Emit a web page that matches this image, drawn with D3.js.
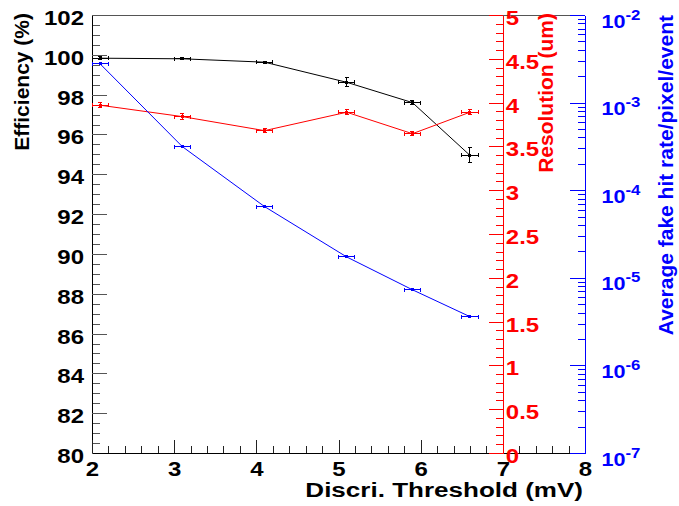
<!DOCTYPE html>
<html>
<head>
<meta charset="utf-8">
<script src="https://cdn.jsdelivr.net/npm/d3@7"></script>
<style>
  html, body { margin: 0; padding: 0; background: #fff; }
  svg { display: block; }
  text { font-family: "Liberation Sans", Arial, Helvetica, sans-serif; font-weight: bold; }
  .axis path, .axis line { shape-rendering: crispEdges; }
</style>
</head>
<body>
<svg id="chart" width="679" height="506"></svg>
<script>
// Discriminator threshold scan: three graphs on a shared x axis
const thresholds = [2.1, 3.1, 4.1, 5.1, 5.9, 6.6];
const thresholdErr = [0.1, 0.1, 0.1, 0.1, 0.1, 0.1];
const efficiency = [99.83, 99.8, 99.63, 98.62, 97.6, 94.95];
const efficiencyErr = [0.08, 0.05, 0.05, 0.22, 0.12, 0.38];
const resolution = [3.97, 3.84, 3.68, 3.89, 3.645, 3.89];
const resolutionErr = [0.03, 0.03, 0.025, 0.03, 0.025, 0.03];
const fakeRate = [2.76e-3, 3.14e-4, 6.5e-5, 1.73e-5, 7.3e-6, 3.6e-6];

const effTicks = d3.range(80, 102.01, 2);
const resTicks = d3.range(0, 5.01, 0.5);
const rateTicks = [1e-7, 1e-6, 1e-5, 1e-4, 1e-3, 1e-2];
const xTicks = [2, 3, 4, 5, 6, 7, 8];

const frame = { left: 92, right: 585, top: 15, bottom: 453 };
const SX = 1.2; // horizontal text stretch, the original renderer draws wide glyphs

const svg = d3.select("#chart");

const x = d3.scaleLinear([2, 8], [frame.left, frame.right]);
const yEff = d3.scaleLinear([80, 102], [frame.bottom, frame.top]);
const yRes = d3.scaleLinear([0, 5], [frame.bottom, frame.top]);
const yRate = d3.scaleLog([1e-7, 1e-2], [frame.bottom, frame.top]);

// top frame edge
svg.append("line")
  .attr("x1", frame.left).attr("x2", frame.right)
  .attr("y1", frame.top).attr("y2", frame.top)
  .attr("stroke", "#555").attr("shape-rendering", "crispEdges");

function stretch(sel, dx, dy, sx) {
  sel.attr("x", 0).attr("y", 0).attr("dy", null)
    .attr("transform", `translate(${dx},${dy}) scale(${sx},1)`);
}

function minorTicks(ticks, n) {
  const out = [];
  for (let i = 0; i < ticks.length - 1; i++) {
    const step = (ticks[i + 1] - ticks[i]) / n;
    for (let j = 1; j < n; j++) out.push(ticks[i] + j * step);
  }
  return out;
}

// --- left: efficiency ---------------------------------------------------
const gL = svg.append("g").attr("class", "axis")
  .attr("transform", `translate(${frame.left},0)`);
gL.append("g").call(d3.axisLeft(yEff).tickValues(minorTicks(effTicks, 4))
  .tickSize(-8).tickFormat("")).call(g => g.select(".domain").remove());
gL.append("g").call(d3.axisLeft(yEff).tickValues(effTicks).tickSize(-15)
  .tickSizeOuter(0).tickFormat(d3.format("d")));
gL.selectAll(".tick line").attr("stroke", "#555");
gL.selectAll(".domain").attr("stroke", "#000");
gL.selectAll("text").attr("font-size", 20).attr("fill", "#000")
  .attr("text-anchor", "end").call(stretch, -8, 9.5, SX);

// --- bottom: threshold --------------------------------------------------
const gB = svg.append("g").attr("class", "axis")
  .attr("transform", `translate(0,${frame.bottom})`);
gB.append("g").call(d3.axisBottom(x).tickValues(minorTicks(xTicks, 5))
  .tickSize(-7).tickFormat("")).call(g => g.select(".domain").remove());
gB.append("g").call(d3.axisBottom(x).tickValues(xTicks).tickSize(-13)
  .tickSizeOuter(0).tickFormat(d3.format("d")));
gB.selectAll(".tick line").attr("stroke", "#222");
gB.selectAll(".domain").attr("stroke", "#000");
gB.selectAll("text").attr("font-size", 20).attr("fill", "#000")
  .call(stretch, 0, 23, SX);

// --- red: resolution ----------------------------------------------------
const gR = svg.append("g").attr("class", "axis")
  .attr("transform", `translate(${x(7)},0)`);
gR.append("g").call(d3.axisRight(yRes).tickValues(minorTicks(resTicks, 5))
  .tickSize(-7).tickFormat("")).call(g => g.select(".domain").remove());
gR.append("g").call(d3.axisRight(yRes).tickValues(resTicks).tickSize(-14)
  .tickSizeOuter(0).tickFormat(d3.format("~g")));
gR.selectAll(".tick line, .domain").attr("stroke", "#f00");
gR.selectAll("text").attr("font-size", 20).attr("fill", "#f00")
  .attr("text-anchor", "start").call(stretch, 3, 9.5, SX);

// --- blue: fake hit rate (log) ------------------------------------------
const rateMinor = [];
for (let e = -7; e < -2; e++) for (let m = 2; m <= 9; m++) rateMinor.push(m * Math.pow(10, e));
const gF = svg.append("g").attr("class", "axis")
  .attr("transform", `translate(${frame.right},0)`);
gF.append("g").call(d3.axisRight(yRate).tickValues(rateMinor)
  .tickSize(-7).tickFormat("")).call(g => g.select(".domain").remove());
gF.append("g").call(d3.axisRight(yRate).tickValues(rateTicks).tickSize(-15)
  .tickSizeOuter(0).tickFormat(""));
gF.selectAll(".tick line, .domain").attr("stroke", "#00f");
gF.selectAll(".tick text").filter(d => rateTicks.includes(d))
  .attr("font-size", 18).attr("fill", "#00f").attr("text-anchor", "start")
  .call(stretch, 16.5, 12, SX)
  .each(function (d) {
    const t = d3.select(this);
    t.append("tspan").text("10");
    t.append("tspan").attr("font-size", 14).attr("dy", -8)
      .text(String(Math.round(Math.log10(d))));
  });

// --- graphs -------------------------------------------------------------
function drawGraph(yScale, vals, errs, color) {
  const pts = thresholds.map((t, i) => ({ t, ex: thresholdErr[i], v: vals[i], ev: errs ? errs[i] : 0 }));
  const g = svg.append("g").attr("stroke", color).attr("fill", color);
  g.append("path").datum(pts)
    .attr("fill", "none").attr("stroke-width", 1)
    .attr("d", d3.line().x(d => x(d.t)).y(d => yScale(d.v)));
  const pt = g.selectAll("g.pt").data(pts).join("g").attr("class", "pt")
    .attr("stroke-width", 1).attr("shape-rendering", "crispEdges");
  pt.append("line")
    .attr("x1", d => x(d.t - d.ex)).attr("x2", d => x(d.t + d.ex))
    .attr("y1", d => yScale(d.v)).attr("y2", d => yScale(d.v));
  [-1, 1].forEach(s => {
    pt.append("line")
      .attr("x1", d => x(d.t + s * d.ex)).attr("x2", d => x(d.t + s * d.ex))
      .attr("y1", d => yScale(d.v) - 2).attr("y2", d => yScale(d.v) + 2);
  });
  const withY = pt.filter(d => d.ev > 0);
  withY.append("line")
    .attr("x1", d => x(d.t)).attr("x2", d => x(d.t))
    .attr("y1", d => yScale(d.v - d.ev)).attr("y2", d => yScale(d.v + d.ev));
  [-1, 1].forEach(s => {
    withY.append("line")
      .attr("x1", d => x(d.t) - 2).attr("x2", d => x(d.t) + 2)
      .attr("y1", d => yScale(d.v + s * d.ev)).attr("y2", d => yScale(d.v + s * d.ev));
  });
  pt.append("rect")
    .attr("x", d => x(d.t) - 1.5).attr("y", d => yScale(d.v) - 1.5)
    .attr("width", 3).attr("height", 3).attr("stroke", "none");
}

drawGraph(yEff, efficiency, efficiencyErr, "#000");
drawGraph(yRes, resolution, resolutionErr, "#f00");
drawGraph(yRate, fakeRate, null, "#00f");

// --- titles -------------------------------------------------------------
svg.append("text")
  .attr("text-anchor", "end").attr("font-size", 21).attr("fill", "#000")
  .attr("transform", `translate(583,497) scale(1.24,1)`)
  .text("Discri. Threshold (mV)");

svg.append("text")
  .attr("text-anchor", "end").attr("font-size", 21).attr("fill", "#000")
  .attr("transform", `translate(29,13) rotate(-90)`)
  .text("Efficiency (%)");

svg.append("text")
  .attr("text-anchor", "end").attr("font-size", 21).attr("fill", "#f00")
  .attr("transform", `translate(553,13) rotate(-90)`)
  .text("Resolution (um)");

svg.append("text")
  .attr("text-anchor", "end").attr("font-size", 21).attr("fill", "#00f")
  .attr("transform", `translate(673,15) rotate(-90)`)
  .text("Average fake hit rate/pixel/event");
</script>
</body>
</html>
